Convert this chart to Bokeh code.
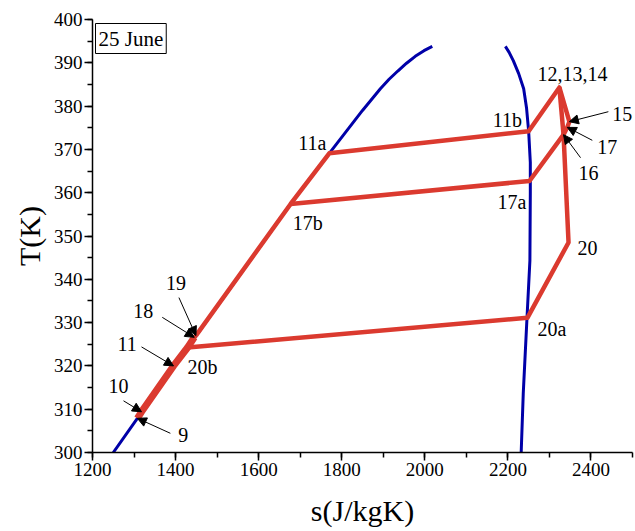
from bokeh.plotting import figure
from bokeh.models import (Range1d, SingleIntervalTicker, ColumnDataSource, Label,
                          Arrow, NormalHead)
from bokeh.core.properties import value
from bokeh.embed import file_html
from bokeh.resources import INLINE

FONT = "Liberation Serif"

# Saturation dome (liquid side and vapour side)
liq_s = [1250, 1308, 1429, 1547, 1677, 1770, 1850, 1893, 1914, 1935, 1956, 1977, 1998, 2018]
liq_T = [300, 307.9, 324.3, 340, 357.4, 369.1, 379.0, 384.0, 386.2, 388.1, 389.9, 391.5, 392.8, 393.8]
vap_s = [2194, 2203, 2213, 2226, 2238, 2245, 2250, 2254, 2254, 2253, 2246, 2237, 2232]
vap_T = [393.8, 392.4, 390.5, 387.5, 384.0, 379.5, 374.2, 367, 360, 344.3, 331.1, 313.6, 300]

# Cycle state points
names = ["9", "10", "11", "18", "19", "20b", "17b", "11a", "11b", "12,13,14",
         "15", "17", "16", "17a", "20", "20a"]
st_s = [1308, 1318, 1395, 1445, 1449, 1429, 1677, 1770, 2250, 2324,
        2348, 2343, 2334, 2252, 2346, 2247]
st_T = [307.9, 309.4, 320.0, 326.6, 327.0, 324.25, 357.4, 369.1, 374.2, 384.3,
        376.4, 375.1, 373.4, 362.7, 348.5, 331.1]
S = dict(zip(names, zip(st_s, st_T)))

paths = [
    ["19", "17b", "11a", "11b", "12,13,14", "15", "17", "16", "20", "20a", "20b", "18", "19"],
    ["12,13,14", "16"],
    ["17b", "17a", "16"],
]
thick_path = ["9", "10", "11", "20b", "18"]

# label offsets in pixels (left edge, vertical middle) relative to state
lab_off = {"9": (41, 17), "10": (-33, -26), "11": (-56, -22), "18": (-61, -26),
           "19": (-30, -53), "20b": (0, 20), "17b": (2, 19), "11a": (-31, -10),
           "11b": (-36, -11), "12,13,14": (-22, -13), "15": (43, -8),
           "17": (30, 20), "16": (15, 38), "17a": (-32, 21), "20": (9, 6),
           "20a": (10, 11)}
# arrow tails in pixels relative to state
arr_off = {"9": (33, 15), "10": (-18, -11), "11": (-32, -19), "18": (-32, -20),
           "19": (-17, -38), "15": (39, -10), "17": (25, 13), "16": (17, 23)}

x0, x1, y0, y1 = 1200, 2500, 300, 400
W, H = 635, 531
L, R, T, B = 92, 3, 19, 79
kx = (x1 - x0) / (W - L - R)
ky = (y1 - y0) / (H - T - B)

p = figure(width=W, height=H, output_backend="svg", toolbar_location=None,
           x_range=Range1d(x0, x1), y_range=Range1d(y0, y1),
           min_border_left=L, min_border_right=R, min_border_top=T, min_border_bottom=B)
p.outline_line_color = None
p.grid.visible = False
p.background_fill_color = "white"
p.border_fill_color = "white"

p.xaxis.ticker = SingleIntervalTicker(interval=200, num_minor_ticks=2)
p.yaxis.ticker = SingleIntervalTicker(interval=10, num_minor_ticks=2)
for ax in (p.xaxis[0], p.yaxis[0]):
    ax.axis_line_width = 1.5
    ax.axis_line_color = "black"
    ax.major_tick_line_width = 1.5
    ax.minor_tick_line_width = 1.5
    ax.major_tick_out = 8
    ax.major_tick_in = 0
    ax.minor_tick_out = 5
    ax.minor_tick_in = 0
    ax.major_label_text_font = FONT
    ax.major_label_text_font_size = "19px"
    ax.major_label_text_color = "black"
    ax.major_label_standoff = 2
    ax.axis_label_text_font = FONT
    ax.axis_label_text_font_size = "30px"
    ax.axis_label_text_font_style = "normal"
    ax.axis_label_text_color = "black"
p.xaxis.axis_label = "s(J/kgK)"
p.yaxis.axis_label = "T(K)"
p.xaxis.axis_label_standoff = 15
p.yaxis.axis_label_standoff = 5

BLUE = "#0000A8"
RED = "#DB3A2F"
p.line(liq_s, liq_T, line_color=BLUE, line_width=3)
p.line(vap_s, vap_T, line_color=BLUE, line_width=3)

p.line([S[n][0] for n in thick_path], [S[n][1] for n in thick_path],
       line_color=RED, line_width=7, line_join="round")
for path in paths:
    p.line([S[n][0] for n in path], [S[n][1] for n in path],
           line_color=RED, line_width=4.5, line_join="round")

src = ColumnDataSource(dict(
    x=[S[n][0] for n in names], y=[S[n][1] for n in names], text=names,
    xo=[lab_off[n][0] for n in names], yo=[lab_off[n][1] for n in names]))
p.text(x="x", y="y", text="text", x_offset="xo", y_offset="yo", source=src,
       text_font=value(FONT), text_font_size="20px", text_color="black",
       text_align="left", text_baseline="middle")

for n, (dx, dy) in arr_off.items():
    sx, sy = S[n]
    p.add_layout(Arrow(x_start=sx + dx * kx, y_start=sy - dy * ky, x_end=sx, y_end=sy,
                       line_color="black", line_width=1,
                       end=NormalHead(size=9, fill_color="black", line_color="black")))

p.add_layout(Label(x=x0, y=y1, x_offset=3, y_offset=-4, text="25 June",
                   anchor="top_left", text_font=FONT, text_font_size="21px",
                   text_color="black", border_line_color="black", border_line_width=1,
                   background_fill_color="white", padding=3))

open("out.html", "w").write(file_html(p, INLINE))
